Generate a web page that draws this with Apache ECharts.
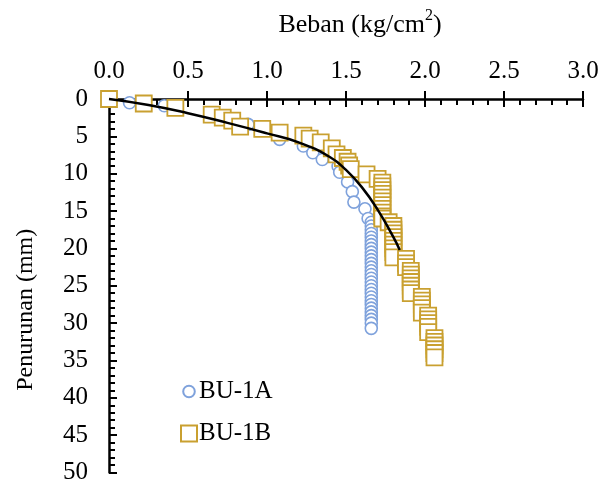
<!DOCTYPE html>
<html>
<head>
<meta charset="utf-8">
<script src="https://cdn.jsdelivr.net/npm/echarts@6/dist/echarts.min.js"></script>
<style>html,body{margin:0;padding:0;background:#fff;}#c{width:611px;height:485px;}</style>
</head>
<body>
<div id="c"></div>
<script>
var xTicks = [0, 0.5, 1.0, 1.5, 2.0, 2.5, 3.0];
var yTicks = [0, 5, 10, 15, 20, 25, 30, 35, 40, 45, 50];

var bu1a = [
  [0.13,0.5],[0.35,0.9],[0.88,3.4],[1.08,5.4],[1.23,6.3],[1.29,7.2],[1.35,8.1],[1.45,9.0],
  [1.46,9.8],[1.51,11.1],[1.54,12.4],[1.55,13.8],[1.62,14.7],[1.64,16.0],
  [1.66,16.5],[1.66,17.0],[1.66,17.5],[1.66,18.0],[1.66,18.5],[1.66,19.0],[1.66,19.5],[1.66,20.0],
  [1.66,20.5],[1.66,21.0],[1.66,21.5],[1.66,22.0],[1.66,22.5],[1.66,23.0],[1.66,23.5],[1.66,24.0],
  [1.66,24.5],[1.66,25.0],[1.66,25.5],[1.66,26.0],[1.66,26.5],[1.66,27.0],[1.66,27.5],[1.66,28.0],
  [1.66,28.5],[1.66,29.0],[1.66,29.5],[1.66,30.0],[1.66,30.7]
];

var bu1b = [
  [0,0],[0.22,0.6],[0.42,1.2],[0.65,2.1],[0.72,2.5],[0.78,2.9],[0.83,3.7],[0.97,4.0],[1.08,4.5],
  [1.23,4.9],[1.27,5.3],[1.34,5.8],[1.41,6.6],[1.44,7.4],[1.48,7.9],[1.51,8.4],[1.52,8.9],[1.53,9.4],
  [1.63,10.1],[1.70,10.7],
  [1.73,11.2],[1.73,11.7],[1.73,12.2],[1.73,12.7],[1.73,13.2],[1.73,13.7],[1.73,14.2],[1.73,14.7],
  [1.73,15.2],[1.73,15.7],[1.73,16.0],[1.77,16.5],
  [1.80,17.0],[1.80,17.5],[1.80,18.0],[1.80,18.5],[1.80,19.0],[1.80,19.5],[1.80,20.0],[1.80,20.5],[1.80,21.2],
  [1.88,21.4],[1.88,22.0],[1.88,22.5],
  [1.91,23.0],[1.91,23.5],[1.91,24.0],[1.91,24.5],[1.91,25.0],[1.91,25.5],[1.91,26.0],
  [1.98,26.5],[1.98,27.0],[1.98,27.5],[1.98,28.0],[1.98,28.6],
  [2.02,29.0],[2.02,29.5],[2.02,30.0],[2.02,30.5],[2.02,31.2],
  [2.06,32.0],[2.06,32.5],[2.06,33.0],[2.06,33.5],[2.06,34.0],[2.06,34.6]
];

var fitCurve = [
  [0,0],[0.25,0.8],[0.5,1.9],[0.75,3.2],[1.0,4.6],[1.2,5.8],[1.4,7.8],[1.5,9.5],
  [1.6,11.8],[1.7,14.8],[1.8,18.5],[1.84,20.2]
];

var FONT = 'Liberation Serif';
var chart = echarts.init(document.getElementById('c'));
var baseX = {
  type: 'value', position: 'top', min: xTicks[0], max: xTicks[xTicks.length-1], interval: 0.5, gridIndex: 0
};
var baseY = {
  type: 'value', inverse: true, min: yTicks[0], max: yTicks[yTicks.length-1], interval: 5, gridIndex: 0
};
chart.setOption({
  animation: false,
  backgroundColor: '#fff',
  grid: { left: 109, top: 99, width: 474, height: 378, containLabel: false },
  legend: {
    orient: 'vertical', left: 175, top: 374, itemGap: 17, itemWidth: 16, itemHeight: 16,
    textStyle: { fontFamily: FONT, fontSize: 25, color: '#000', padding: [0,0,0,-3] },
    data: [
      { name: 'BU-1A', icon: 'path://M0,0M16,16M8,2.2A5.8,5.8,0,1,1,8,13.8A5.8,5.8,0,1,1,8,2.2Z' },
      { name: 'BU-1B', icon: 'rect' }
    ]
  },
  xAxis: [
    Object.assign({}, baseX, {
      name: '{a|Beban (kg/cm}{s|2}{a|)}',
      nameLocation: 'middle', nameGap: 61,
      nameTextStyle: {
        padding: [0, 0, 0, 28],
        rich: {
          a: { fontFamily: FONT, fontSize: 26, color: '#000', lineHeight: 30, verticalAlign: 'bottom' },
          s: { fontFamily: FONT, fontSize: 16, color: '#000', lineHeight: 30, verticalAlign: 'top' }
        }
      },
      axisLine: { show: true, onZero: false, lineStyle: { color: '#000', width: 2.5 } },
      axisTick: { show: true, inside: true, length: 8, lineStyle: { color: '#000', width: 2 } },
      minorTick: { show: true, splitNumber: 5, length: 6, lineStyle: { color: '#000', width: 2 } },
      axisLabel: { margin: 15, fontFamily: FONT, fontSize: 25, color: '#000',
        formatter: function (v) { return v.toFixed(1); } },
      splitLine: { show: false }
    }),
    Object.assign({}, baseX, {
      axisLine: { show: false },
      axisTick: { show: true, inside: false, length: 8, lineStyle: { color: '#000', width: 2 } },
      axisLabel: { show: false },
      splitLine: { show: false }
    })
  ],
  yAxis: [
    Object.assign({}, baseY, {
      name: 'Penurunan (mm)', nameLocation: 'middle', nameGap: 71,
      nameTextStyle: { fontFamily: FONT, fontSize: 24, color: '#000', padding: [0, 48, 0, 0] },
      axisLine: { show: true, onZero: false, lineStyle: { color: '#000', width: 2.5 } },
      axisTick: { show: true, inside: true, length: 8, lineStyle: { color: '#000', width: 2 } },
      minorTick: { show: true, splitNumber: 5, length: 6, lineStyle: { color: '#000', width: 2 } },
      axisLabel: { margin: 21, fontFamily: FONT, fontSize: 25, color: '#000' },
      splitLine: { show: false }
    }),
    Object.assign({}, baseY, {
      axisLine: { show: false },
      axisTick: { show: true, inside: false, length: 8, lineStyle: { color: '#000', width: 2 } },
      axisLabel: { show: false },
      splitLine: { show: false }
    })
  ],
  series: [
    {
      name: 'BU-1A', type: 'scatter', data: bu1a, symbol: 'circle', symbolSize: 12, clip: false,
      xAxisIndex: 0, yAxisIndex: 0,
      itemStyle: { color: '#fff', borderColor: '#7fa2dc', borderWidth: 1.6, opacity: 1 }
    },
    {
      name: 'BU-1B', type: 'scatter', data: bu1b, symbol: 'rect', symbolSize: 16, clip: false,
      xAxisIndex: 0, yAxisIndex: 0,
      itemStyle: { color: '#fff', borderColor: '#c9a030', borderWidth: 1.8, opacity: 1 }
    },
    {
      name: 'fit', type: 'line', data: fitCurve, smooth: true, showSymbol: false, symbol: 'none',
      xAxisIndex: 0, yAxisIndex: 0, clip: false,
      lineStyle: { color: '#000', width: 2.5 }, z: 5
    }
  ]
});
</script>
</body>
</html>
